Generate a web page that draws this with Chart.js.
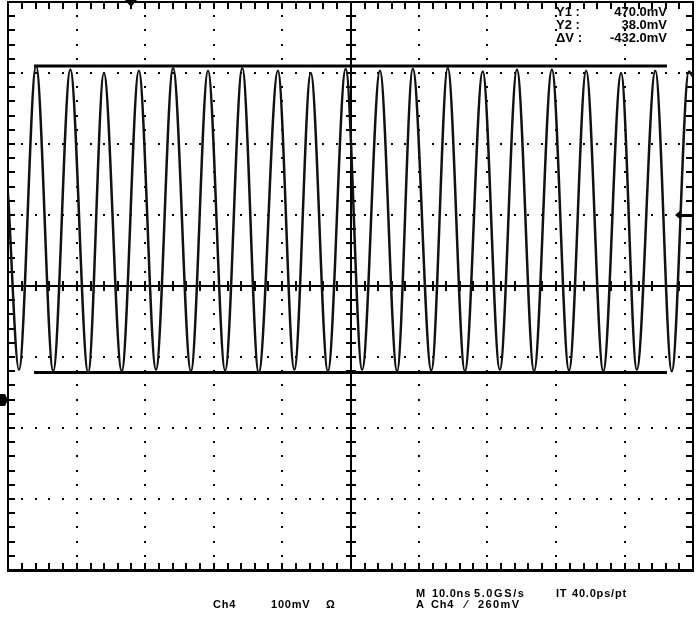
<!DOCTYPE html>
<html>
<head>
<meta charset="utf-8">
<script src="https://cdn.jsdelivr.net/npm/chart.js@4.4.1/dist/chart.umd.min.js"></script>
<style>
  body { margin: 0; background: #fff; }
  #wrap { position: relative; width: 700px; height: 625px; }
  .t { position: absolute; font-family: "Liberation Sans", Arial, sans-serif; font-weight: bold; color: #000; white-space: pre; line-height: 1; }
  .top { font-size: 13px; }
  .bot { font-size: 11px; letter-spacing: 0.8px; }
</style>
</head>
<body>
<div id="wrap">
  <canvas id="scope" width="700" height="625"></canvas>
  <div class="t top" style="left:556px; top:5px;">Y1 :</div>
  <div class="t top" style="right:33px; top:5px;">470.0mV</div>
  <div class="t top" style="left:556px; top:18px;">Y2 :</div>
  <div class="t top" style="right:33px; top:18px;">38.0mV</div>
  <div class="t top" style="left:556px; top:31px;">ΔV :</div>
  <div class="t top" style="right:33px; top:31px;">-432.0mV</div>

  <div class="t bot" style="left:416px; top:588px;">M</div>
  <div class="t bot" style="left:432px; top:588px;">10.0ns</div>
  <div class="t bot" style="left:474px; top:588px; letter-spacing:1.6px;">5.0GS/s</div>
  <div class="t bot" style="left:556px; top:588px;">IT</div>
  <div class="t bot" style="left:572px; top:588px;">40.0ps/pt</div>
  <div class="t bot" style="left:213px; top:599px;">Ch4</div>
  <div class="t bot" style="left:271px; top:599px;">100mV</div>
  <div class="t bot" style="left:326px; top:599px;">Ω</div>
  <div class="t bot" style="left:416px; top:599px;">A</div>
  <div class="t bot" style="left:431px; top:599px;">Ch4</div>
  <div class="t bot" style="left:465px; top:599px;">⁄</div>
  <div class="t bot" style="left:478px; top:599px; letter-spacing:1.4px;">260mV</div>
</div>
<script>
// waveform: time in ns, level in mV (peaks and troughs)
const timeNs = [0, 1.6, 4.1, 6.6, 9.1, 11.7, 14.0, 16.6, 19.1, 21.6, 24.1, 26.7, 29.2, 31.7, 34.2, 36.6,
  39.4, 41.8, 44.2, 46.7, 49.3, 51.7, 54.3, 56.8, 59.1, 61.8, 64.2, 66.7, 69.3, 71.8, 74.3, 76.8,
  79.4, 81.9, 84.4, 86.9, 89.5, 91.8, 94.5, 96.9, 99.4, 100];
const levelMv = [290, 42, 470, 40, 465, 38, 460, 40, 463, 42, 467, 40, 463, 41, 467, 38,
  463, 42, 460, 40, 466, 42, 463, 40, 466, 41, 467, 40, 462, 42, 465, 40,
  465, 41, 463, 40, 460, 42, 463, 40, 462, 455];

// cursors
const cursorMv = [470, 38];
const cursorSpanNs = [3.8, 96.2];

// graticule: 10 ns/div, 100 mV/div
const gridMv = [-240, -140, -40, 60, 160, 260, 360, 460, 560];
const groundMv = 0;
const triggerMv = 260;
const triggerNs = 18;

const trace = timeNs.map((t, i) => ({ x: t, y: levelMv[i] }));

const graticule = {
  id: 'graticule',
  beforeDatasetsDraw(chart) {
    const { ctx, chartArea: a, scales: { x, y } } = chart;
    const xs = x.ticks.map(t => Math.round(x.getPixelForValue(t.value)));
    const ys = y.ticks.map(t => Math.round(y.getPixelForValue(t.value)));
    const minor = arr => {
      const out = [];
      for (let i = 0; i < arr.length - 1; i++) {
        for (let k = 0; k < 5; k++) out.push(Math.round(arr[i] + (arr[i + 1] - arr[i]) * k / 5));
      }
      out.push(arr[arr.length - 1]);
      return out;
    };
    const mx = minor(xs), my = minor(ys);
    const cx = xs[5], cy = ys[4];
    ctx.save();
    ctx.fillStyle = '#000';
    // dotted lines
    xs.slice(1, -1).forEach(px => my.forEach(py => ctx.fillRect(px - 1, py - 1, 2, 2)));
    ys.slice(1, -1).forEach(py => mx.forEach(px => ctx.fillRect(px - 1, py - 1, 2, 2)));
    // centre cross
    ctx.fillRect(a.left, cy - 1, a.right - a.left, 2);
    ctx.fillRect(cx - 1, a.top, 2, a.bottom - a.top);
    mx.forEach(px => ctx.fillRect(px - 1, cy - 5, 2, 10));
    my.forEach(py => ctx.fillRect(cx - 5, py - 1, 10, 2));
    // frame + ticks
    ctx.fillRect(a.left - 1, a.top - 1, a.right - a.left + 2, 2);
    ctx.fillRect(a.left - 1, a.bottom - 1, a.right - a.left + 2, 3);
    ctx.fillRect(a.left - 1, a.top - 1, 2, a.bottom - a.top + 2);
    ctx.fillRect(a.right - 1, a.top - 1, 2, a.bottom - a.top + 2);
    mx.forEach(px => {
      ctx.fillRect(px - 1, a.top, 2, 7);
      ctx.fillRect(px - 1, a.bottom - 7, 2, 7);
    });
    my.forEach(py => {
      ctx.fillRect(a.left, py - 1, 7, 2);
      ctx.fillRect(a.right - 7, py - 1, 7, 2);
    });
    ctx.restore();
  },
  afterDraw(chart) {
    const { ctx, chartArea: a, scales: { x, y } } = chart;
    ctx.save();
    ctx.fillStyle = '#000';
    // ground marker (left)
    const gy = Math.round(y.getPixelForValue(groundMv));
    ctx.beginPath();
    ctx.moveTo(0, gy - 6); ctx.lineTo(5, gy - 6); ctx.lineTo(a.left, gy); ctx.lineTo(5, gy + 6); ctx.lineTo(0, gy + 6);
    ctx.closePath(); ctx.fill();
    // trigger level arrow (right)
    const ty = Math.round(y.getPixelForValue(triggerMv));
    ctx.fillRect(a.right - 14, ty - 1, 13, 3);
    ctx.beginPath();
    ctx.moveTo(a.right - 18, ty); ctx.lineTo(a.right - 12, ty - 5); ctx.lineTo(a.right - 12, ty + 5);
    ctx.closePath(); ctx.fill();
    // trigger position (top)
    const tx = Math.round(x.getPixelForValue(triggerNs));
    ctx.beginPath();
    ctx.moveTo(tx - 6, 0); ctx.lineTo(tx + 6, 0); ctx.lineTo(tx, 7);
    ctx.closePath(); ctx.fill();
    ctx.restore();
  }
};

new Chart(document.getElementById('scope'), {
  type: 'line',
  data: {
    datasets: [
      {
        data: trace,
        borderColor: '#111',
        borderWidth: 2.5,
        pointRadius: 0,
        cubicInterpolationMode: 'monotone',
      },
      {
        data: cursorSpanNs.map(t => ({ x: t, y: cursorMv[0] })),
        borderColor: '#000',
        borderWidth: 3,
        pointRadius: 0,
      },
      {
        data: cursorSpanNs.map(t => ({ x: t, y: cursorMv[1] })),
        borderColor: '#000',
        borderWidth: 3,
        pointRadius: 0,
      },
    ],
  },
  options: {
    responsive: false,
    animation: false,
    devicePixelRatio: 1,
    layout: { padding: { left: 8, right: 7, top: 2, bottom: 55 } },
    plugins: { legend: { display: false }, tooltip: { enabled: false } },
    scales: {
      x: {
        type: 'linear',
        min: 0,
        max: 100,
        ticks: { stepSize: 10 },
        display: false,
      },
      y: {
        type: 'linear',
        min: gridMv[0],
        max: gridMv[gridMv.length - 1],
        afterBuildTicks: (scale) => { scale.ticks = gridMv.map(v => ({ value: v })); },
        display: false,
      },
    },
  },
  plugins: [graticule],
});
</script>
</body>
</html>
